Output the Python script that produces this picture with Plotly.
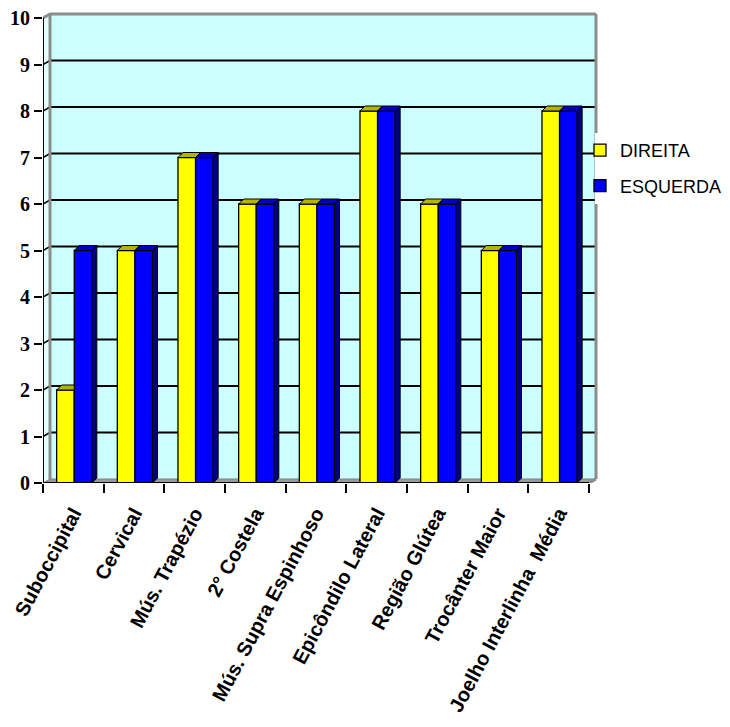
import plotly.graph_objects as go

# ---- data -------------------------------------------------------------
categories = [
    "Suboccipital",
    "Cervical",
    "Mús. Trapézio",
    "2° Costela",
    "Mús. Supra Espinhoso",
    "Epicôndilo Lateral",
    "Região Glútea",
    "Trocânter Maior",
    "Joelho Interlinha\u00a0 Média",
]
direita = [2, 5, 7, 6, 6, 8, 6, 5, 8]
esquerda = [5, 5, 7, 6, 6, 8, 6, 5, 8]
y_ticks = list(range(0, 11))

# ---- geometry of the pseudo-3D box ------------------------------------
N = len(categories)
YMAX = 10
PX_X = 546 / N          # pixels per category
PX_Y = 465 / YMAX       # pixels per value unit
WALL_DX = 7 / PX_X      # depth offset of the back wall
WALL_DY = 4 / PX_Y
BAR_DX = 5 / PX_X       # depth offset of bar tops / sides
BAR_DY = 5 / PX_Y
PAD_X = 2 / PX_X
PAD_Y = 2 / PX_Y
BAR_W = 0.29
SHIFT = 0.015

# plot-area size in pixels (for paper-referenced placement)
ML, MR, MT, MB = 43, 132, 12, 244
PW, PH = 730 - ML - MR, 727 - MT - MB


def paper_x(px):
    return (px - ML) / PW


def paper_y(py):
    return (727 - MB - py) / PH


centers = [i + 0.5 for i in range(N)]

YELLOW, YELLOW_TOP = "#FFFF00", "#B4B400"
BLUE, BLUE_TOP, BLUE_SIDE = "#0000FF", "#0000C0", "#000080"
WALL, SIDE_WALL, GREY = "#CCFFFF", "#E4FFFF", "#8C8C8C"

fig = go.Figure()

# front faces of the bars
fig.add_trace(go.Bar(
    x=centers, y=direita, width=BAR_W, offset=-BAR_W + SHIFT,
    name="DIREITA", legendgroup="d",
    marker=dict(color=YELLOW, line=dict(color="black", width=1.3)),
))
fig.add_trace(go.Bar(
    x=centers, y=esquerda, width=BAR_W, offset=SHIFT,
    name="ESQUERDA", legendgroup="e",
    marker=dict(color=BLUE, line=dict(color="black", width=1.3)),
))


def polys(quads):
    xs, ys = [], []
    for q in quads:
        for px, py in q + [q[0]]:
            xs.append(px)
            ys.append(py)
        xs.append(None)
        ys.append(None)
    return xs, ys


y_tops, y_sides, b_tops, b_sides = [], [], [], []
for c, d, e in zip(centers, direita, esquerda):
    xl = c - BAR_W + SHIFT
    xm = c + SHIFT
    xr = c + BAR_W + SHIFT
    if d < e:
        y_tops.append([(xl, d), (xl + BAR_DX, d + BAR_DY), (xm, d + BAR_DY), (xm, d)])
    else:
        y_tops.append([(xl, d), (xl + BAR_DX, d + BAR_DY),
                       (xm + BAR_DX, d + BAR_DY), (xm, d)])
    if d > e:
        y_sides.append([(xm, e), (xm, d), (xm + BAR_DX, d + BAR_DY), (xm + BAR_DX, e + BAR_DY)])
    b_tops.append([(xm, e), (xm + BAR_DX, e + BAR_DY), (xr + BAR_DX, e + BAR_DY), (xr, e)])
    b_sides.append([(xr, 0), (xr, e), (xr + BAR_DX, e + BAR_DY), (xr + BAR_DX, BAR_DY)])

for quads, col in [(y_tops, YELLOW_TOP), (y_sides, YELLOW_TOP),
                   (b_tops, BLUE_TOP), (b_sides, BLUE_SIDE)]:
    if not quads:
        continue
    xs, ys = polys(quads)
    fig.add_trace(go.Scatter(
        x=xs, y=ys, mode="lines", fill="toself", fillcolor=col,
        line=dict(color="black", width=1), showlegend=False, hoverinfo="skip",
    ))

# front axis lines
fig.add_trace(go.Scatter(
    x=[0, N], y=[0, 0], mode="lines", line=dict(color="black", width=2),
    showlegend=False, hoverinfo="skip", cliponaxis=False,
))
fig.add_trace(go.Scatter(
    x=[0, 0], y=[0, YMAX], mode="lines", line=dict(color="black", width=2),
    showlegend=False, hoverinfo="skip", cliponaxis=False,
))

# ---- walls, floor and gridlines -----------------------------------------
shapes = []
shapes.append(dict(type="rect", xref="x", yref="y", layer="below",
                   x0=WALL_DX, x1=N + WALL_DX, y0=WALL_DY, y1=YMAX + WALL_DY,
                   fillcolor=WALL, line=dict(width=0)))
shapes.append(dict(type="path", xref="x", yref="y", layer="below",
                   path=f"M0,0 L0,{YMAX} L{WALL_DX},{YMAX + WALL_DY} L{WALL_DX},{WALL_DY} Z",
                   fillcolor=SIDE_WALL, line=dict(width=0)))
shapes.append(dict(type="path", xref="x", yref="y", layer="below",
                   path=f"M0,0 L{N},0 L{N + WALL_DX},{WALL_DY} L{WALL_DX},{WALL_DY} Z",
                   fillcolor="#9A9A9A", line=dict(color="#808080", width=1)))
for v in y_ticks[1:]:
    shapes.append(dict(type="line", xref="x", yref="y", layer="below",
                       x0=WALL_DX, x1=N + WALL_DX, y0=v + WALL_DY, y1=v + WALL_DY,
                       line=dict(color="black", width=2)))
    shapes.append(dict(type="line", xref="x", yref="y", layer="below",
                       x0=0, x1=WALL_DX, y0=v, y1=v + WALL_DY,
                       line=dict(color="black", width=1.5)))
# grey frame of the back wall
for x0, y0, x1, y1 in [
    (WALL_DX, WALL_DY, WALL_DX, YMAX + WALL_DY),
    (WALL_DX, YMAX + WALL_DY, N + WALL_DX, YMAX + WALL_DY),
    (N + WALL_DX, WALL_DY, N + WALL_DX, YMAX + WALL_DY),
    (0, YMAX, WALL_DX, YMAX + WALL_DY),
    (N, 0, N + WALL_DX, WALL_DY),
]:
    shapes.append(dict(type="line", xref="x", yref="y", layer="below",
                       x0=x0, x1=x1, y0=y0, y1=y1,
                       line=dict(color=GREY, width=3)))
# white backing of the legend box
shapes.append(dict(type="rect", xref="paper", yref="paper", layer="above",
                   x0=paper_x(595), x1=paper_x(730), y0=paper_y(204), y1=paper_y(133),
                   fillcolor="white", line=dict(width=0)))

fig.update_layout(
    width=730, height=727,
    margin=dict(l=ML, r=MR, t=MT, b=MB, autoexpand=False),
    paper_bgcolor="white", plot_bgcolor="rgba(0,0,0,0)",
    barmode="overlay",
    shapes=shapes,
    showlegend=True,
    legend=dict(
        x=paper_x(580), y=paper_y(132), xanchor="left", yanchor="top",
        bgcolor="rgba(0,0,0,0)", borderwidth=0, traceorder="grouped", tracegroupgap=9,
        font=dict(family="Liberation Sans, Arial", size=18, color="black"),
    ),
    xaxis=dict(
        range=[0, N + WALL_DX + PAD_X], showgrid=False, zeroline=False, showline=False,
        tickmode="array", tickvals=centers, ticktext=categories, ticks="",
        tickangle=-62, ticklabelstandoff=14,
        tickfont=dict(family="Liberation Sans, Arial", size=20, color="black", weight="bold"),
        minor=dict(tickmode="array", tickvals=list(range(N + 1)), ticks="outside",
                   ticklen=9, tickwidth=2, tickcolor="black", showgrid=False),
    ),
    yaxis=dict(
        range=[0, YMAX + WALL_DY + PAD_Y], showgrid=False, zeroline=False, showline=False,
        tickmode="array", tickvals=y_ticks, ticks="outside", ticklen=8, tickwidth=2,
        tickcolor="black",
        tickfont=dict(family="Liberation Serif, Times New Roman", size=20, color="black",
                      weight="bold"),
    ),
)

fig.write_html("out.html")
